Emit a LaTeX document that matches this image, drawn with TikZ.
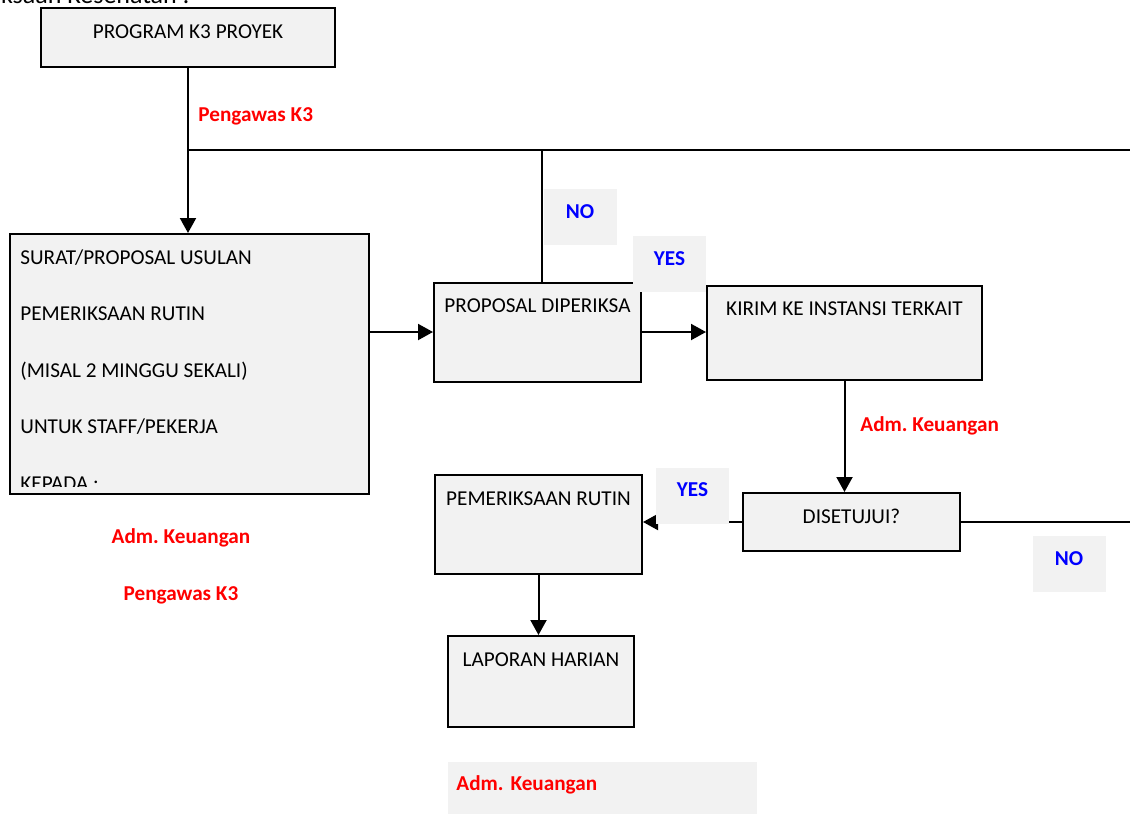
\documentclass[tikz,border=0pt]{standalone}
\usepackage{fontspec}
\setmainfont{Carlito}
\usepackage{tikz}
\usetikzlibrary{arrows.meta}
\definecolor{boxgray}{HTML}{F2F2F2}

\begin{document}
\begin{tikzpicture}[
x=0.5pt, y=-0.5pt,
font=\fontsize{10.6pt}{12pt}\selectfont,
stepbox/.style={rectangle, draw=black, fill=boxgray, line width=1pt, inner xsep=2pt, inner ysep=4pt, text height=11pt, text depth=#1},
tag/.style={rectangle, fill=boxgray, text=blue, font=\fontsize{10.6pt}{12pt}\selectfont\bfseries, minimum width=36.5pt, inner ysep=4pt, text height=10.5pt, text depth=9.5pt},
role/.style={text=red, font=\fontsize{10.6pt}{12pt}\selectfont\bfseries, inner sep=0pt},
flow/.style={-{Triangle[length=7.5pt,width=8pt]}, line width=1pt},
link/.style={line width=1pt}]

\useasboundingbox (0,0) rectangle (1130,815);

\node[anchor=base east, font=\fontsize{13pt}{15pt}\selectfont, inner sep=0pt] (title) at (190,3.5) {Pemeriksaan Kesehatan :};

\node[stepbox=10.5pt, minimum width=147pt] (prog) at (188,37.5) {PROGRAM K3 PROYEK};
\node[stepbox=0pt, minimum width=179.5pt, minimum height=130pt] (surat) at (189.5,364) {};
\begin{scope}
\clip (surat.north west) rectangle ([yshift=4.5pt]surat.south east);
\node[anchor=base west, align=left, inner sep=0pt, font=\fontsize{10.6pt}{28.25pt}\selectfont] (usulan) at (20,490) {SURAT/PROPOSAL USULAN\\PEMERIKSAAN RUTIN\\(MISAL 2 MINGGU SEKALI)\\UNTUK STAFF/PEKERJA\\KEPADA :};
\end{scope}

\node[stepbox=30.5pt, minimum width=103.5pt] (check) at (537.5,332) {PROPOSAL DIPERIKSA};
\node[stepbox=28pt, minimum width=137.5pt] (kirim) at (844.5,332.5) {KIRIM KE INSTANSI TERKAIT};
\node[stepbox=10pt, minimum width=108.5pt] (setuju) at (851.5,522) {DISETUJUI?};
\node[stepbox=30.5pt, minimum width=103.5pt] (rutin) at (538.5,524.5) {PEMERIKSAAN RUTIN};
\node[stepbox=26.5pt, minimum width=93pt] (lapor) at (541,681.5) {LAPORAN HARIAN};

\coordinate (fork) at (189,150);
\coordinate (back) at (542,150);
\coordinate (edge1) at (1130,150);
\coordinate (edge2) at (1130,522);

\draw[flow] (prog) -- (prog |- surat.north);
\draw[link] (fork) -- (edge1);
\draw[link] (back) -- (back |- check.north);
\draw[flow] (surat.east |- check) -- (check.west);
\draw[flow] (check.east) -- (check.east -| kirim.west);
\draw[flow] (kirim.south) -- (kirim.south |- setuju.north);
\draw[link] (setuju) -- (edge2);
\draw[flow] (setuju.west) -- (setuju.west -| rutin.east);
\draw[flow] (rutin.south) -- (rutin.south |- lapor.north);

\node[tag] (no1) at (580,217) {NO};
\node[tag] (yes1) at (669.5,264) {YES};
\node[tag] (yes2) at (692.5,495.5) {YES};
\node[tag] (no2) at (1069,564) {NO};

\node[role, anchor=base west] (pengawas1) at (198,121) {Pengawas K3};
\node[role, anchor=base west] (adm1) at (860,431) {Adm.\ Keuangan};
\node[role, anchor=base] (adm2) at (181,543) {Adm.\ Keuangan};
\node[role, anchor=base] (pengawas2) at (181,600) {Pengawas K3};
\node[role, anchor=north west, fill=boxgray, text width=146.5pt, inner xsep=4pt, inner ysep=4pt, text height=10pt, text depth=8pt] (adm3) at (448,762) {Adm.\ Keuangan};
\end{tikzpicture}
\end{document}
